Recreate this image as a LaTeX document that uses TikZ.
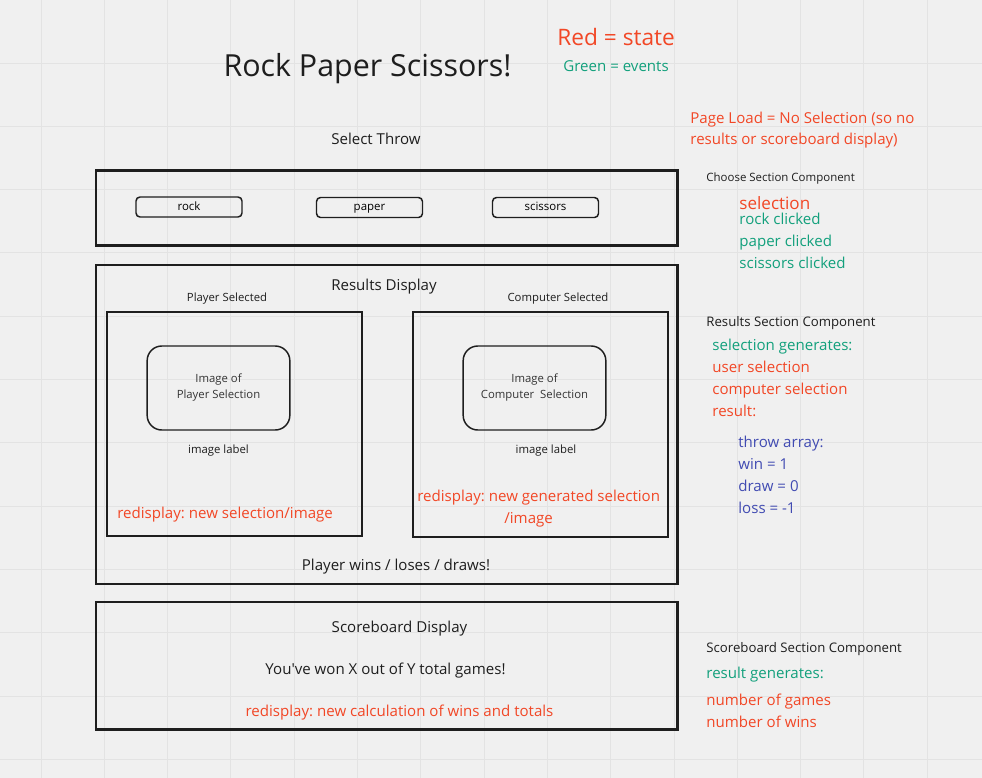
\documentclass[tikz,border=0pt]{standalone}
\usepackage{fontspec}
\setmainfont{Open Sans}
\usepackage{tikz}
\usetikzlibrary{positioning}
\frenchspacing

\definecolor{boardbg}{HTML}{F0F0F0}
\definecolor{gridgray}{HTML}{E3E3E3}
\definecolor{ink}{HTML}{1E1E1E}
\definecolor{statered}{HTML}{F24726}
\definecolor{eventgreen}{HTML}{12A07C}
\definecolor{notesblue}{HTML}{414BB2}

\begin{document}
\begin{tikzpicture}[x=0.75pt, y=-0.75pt, inner sep=0pt, node distance=16.5pt, semithick]
\tikzstyle{gridline}=[draw=gridgray, line width=0.75pt]
\tikzstyle{frame}=[draw=ink, line width=2.2pt]
\tikzstyle{panel}=[draw=ink, line width=1.1pt]
\tikzstyle{button}=[draw=ink, line width=1.1pt, rounded corners=3pt, minimum width=79.5pt, minimum height=15pt, text height=6.5pt, text depth=1.5pt, font=\fontsize{8.6}{10}\selectfont]
\tikzstyle{picbox}=[draw=ink, line width=1.1pt, rounded corners=11pt, minimum width=107pt, minimum height=63pt, align=center, text=ink!90, font=\fontsize{8.5}{12}\selectfont]
\tikzstyle{body}=[text=ink, font=\fontsize{11.3}{14}\selectfont]
\tikzstyle{small}=[text=ink, font=\fontsize{8.5}{10}\selectfont]
\tikzstyle{comp}=[text=ink, anchor=base west, font=\fontsize{9.9}{12}\selectfont]
\tikzstyle{statetext}=[text=statered, font=\fontsize{11.3}{14}\selectfont]
\tikzstyle{event}=[text=eventgreen, font=\fontsize{11.3}{14}\selectfont]
\tikzstyle{note}=[text=notesblue, font=\fontsize{11.3}{14}\selectfont]
\tikzset{next line/.style={below=of #1.base west, anchor=base west}}

% board
\fill[boardbg] (0,0) rectangle (982,778);
\useasboundingbox (0,0) rectangle (982,778);
\foreach \gx in {0,...,14}
  \draw[gridline] ({41+63.3*\gx},0) -- ({41+63.3*\gx},778);
\foreach \gy in {1,...,12}
  \draw[gridline] (0,{63.3*\gy-0.3}) -- (982,{63.3*\gy-0.3});

% heading and legend
\node[text=ink, anchor=base, font=\fontsize{22.8}{27}\selectfont] (title) at (367.5,76) {Rock Paper Scissors!};
\node[text=statered, anchor=base west, font=\fontsize{17}{20}\selectfont] (redkey) at (557,45) {Red = state};
\node[event, anchor=base west] (greenkey) at (563,71) {Green = events};
\node[statetext, anchor=base west] (pageload) at (690,123) {Page Load = No Selection (so no};
\node[statetext, anchor=base west] (pageload2) at (690,144) {results or scoreboard display)};

% choose section
\node[body, anchor=base] (selthrow) at (376,144) {Select Throw};
\draw[frame] (96,170.5) rectangle (677.5,245.5);
\node[button] (rock) at (189,207) {rock};
\node[button] (paper) at (369.5,207.5) {paper};
\node[button] (scissors) at (545.5,207.5) {scissors};

% results section
\draw[frame] (96,265) rectangle (677.5,584);
\node[body, anchor=base] (resdisp) at (384,290) {Results Display};
\node[small, anchor=base] (plsel) at (227,301) {Player Selected};
\node[small, anchor=base] (cpsel) at (558,301) {Computer Selected};
\draw[panel] (107,312) rectangle (362,536);
\draw[panel] (413,312) rectangle (668,537);
\node[picbox] (plimg) at (218.5,388) {Image of\\Player Selection};
\node[picbox] (cpimg) at (534.5,388) {Image of\\Computer~ Selection};
\node[small, anchor=base] (pllabel) at (218.5,453) {image label};
\node[small, anchor=base] (cplabel) at (546,453) {image label};
\node[statetext, anchor=base west] (plredo) at (117,518) {redisplay: new selection/image};
\node[statetext, anchor=base west] (cpredo) at (417,501) {redisplay: new generated selection};
\node[statetext, anchor=base west] (cpredo2) at (504,523) {/image};
\node[body, anchor=base] (outcome) at (396,570) {Player wins / loses / draws!};

% scoreboard section
\draw[frame] (96,602) rectangle (677.5,729.5);
\node[body, anchor=base] (scdisp) at (399.5,632) {Scoreboard Display};
\node[body, anchor=base] (score) at (385.5,674) {You\textquotesingle ve won X out of Y total games!};
\node[statetext, anchor=base] (scredo) at (399.5,716) {redisplay: new calculation of wins and totals};

% component notes
\node[text=ink, anchor=base west, font=\fontsize{8.6}{10}\selectfont] (choosecomp) at (706,181) {Choose Section Component};
\node[text=statered, anchor=base west, font=\fontsize{12.8}{15}\selectfont] (selstate) at (739,209) {selection};
\node[event, anchor=base west] (rockclk) at (739,224) {rock clicked};
\node[event, next line=rockclk] (paperclk) {paper clicked};
\node[event, next line=paperclk] (scisclk) {scissors clicked};

\node[comp] (rescomp) at (706,326) {Results Section Component};
\node[event, anchor=base west] (selgen) at (712,350) {selection generates:};
\node[statetext, next line=selgen] (usersel) {user selection};
\node[statetext, next line=usersel] (compsel) {computer selection};
\node[statetext, next line=compsel] (result) {result:};
\node[note, anchor=base west] (throwarr) at (738,447) {throw array:};
\node[note, next line=throwarr] (winval) {win = 1};
\node[note, next line=winval] (drawval) {draw = 0};
\node[note, next line=drawval] (lossval) {loss = -1};

\node[comp] (scorecomp) at (706,652) {Scoreboard Section Component};
\node[event, anchor=base west] (resgen) at (706,678) {result generates:};
\node[statetext, anchor=base west] (games) at (706,705) {number of games};
\node[statetext, next line=games] (wins) {number of wins};
\end{tikzpicture}
\end{document}
